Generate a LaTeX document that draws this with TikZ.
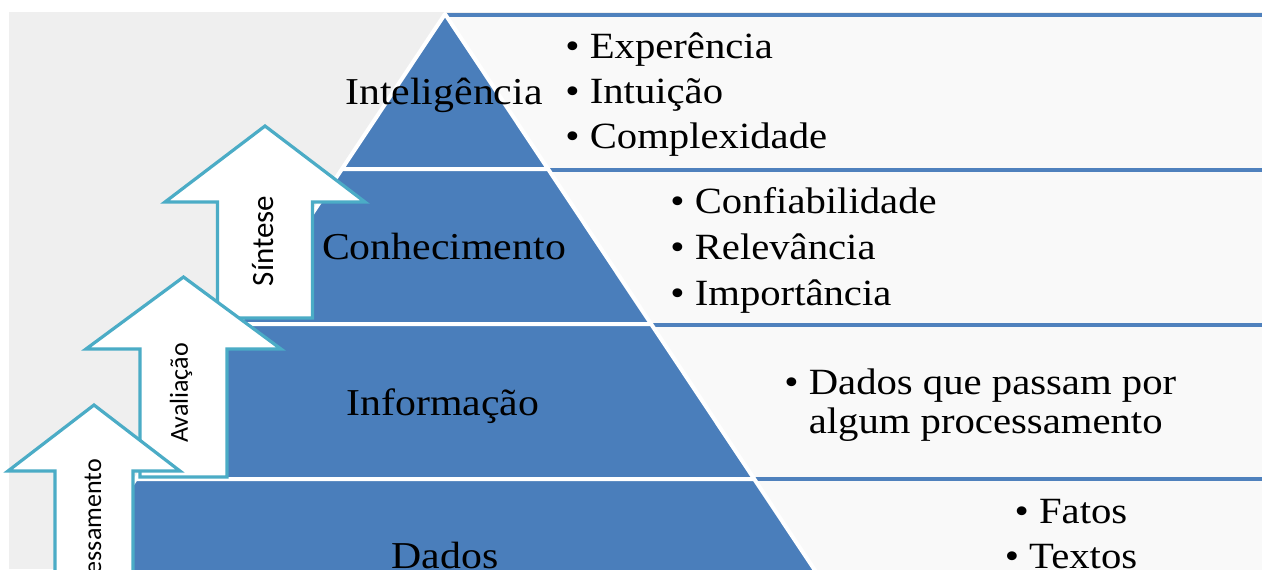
\documentclass[tikz,border=0pt]{standalone}
\usepackage{fontspec}
\setmainfont{Liberation Serif}[FakeStretch=1.1]
\newfontfamily\arrowfont{Carlito}
\definecolor{pyrblue}{RGB}{74,126,187}
\definecolor{arrowteal}{RGB}{75,172,198}
\definecolor{bggray}{RGB}{239,239,239}
\definecolor{panelgray}{RGB}{249,249,249}
\definecolor{lineblue}{RGB}{79,129,189}
\begin{document}
\begin{tikzpicture}[x=0.5pt,y=-0.5pt,
    layer/.style={fill=pyrblue,draw=white,line width=2pt,line join=round},
    uparrow/.style={fill=white,draw=arrowteal,line width=1.6pt,line join=miter},
    level/.style={font=\fontsize{19}{22}\selectfont,anchor=base,inner sep=0pt},
    bullet/.style={font=\fontsize{18.5}{22}\selectfont,anchor=base west,inner sep=0pt},
    arrowlabel/.style={font=\arrowfont\fontsize{13}{15}\selectfont,rotate=90,inner sep=0pt}]
    \useasboundingbox (0,0) rectangle (1262,569);
    \clip (0,0) rectangle (1262,569);
    \fill[bggray] (9,12) rectangle (1262,569);
    % panels on the right
    \foreach \ya/\yb in {15/170,170/325,325/479,479/640}{
      \fill[panelgray] (445,\ya) rectangle (1262,\yb);
      \draw[lineblue,line width=2pt] (445,\ya)--(1262,\ya);
    }
    % pyramid, apex at (445,14)
    \foreach \ya/\yb in {14/169,169/324,324/479,479/640}{
      \pgfmathsetmacro\wa{0.665*(\ya-14)}
      \pgfmathsetmacro\wb{0.665*(\yb-14)}
      \draw[layer] (445-\wa,\ya)--(445+\wa,\ya)--(445+\wb,\yb)--(445-\wb,\yb)--cycle;
    }
    % arrows
    \draw[uparrow] (217.5,318)--(217.5,202)--(165,202)--(265,126)--(365,202)--(312.5,202)--(312.5,318)--cycle;
    \draw[uparrow] (140,477)--(140,349)--(86,349)--(183.5,277)--(281,349)--(227,349)--(227,477)--cycle;
    \draw[uparrow] (55,640)--(55,471)--(8,471)--(94,405)--(180,471)--(133,471)--(133,640)--cycle;
    \node[arrowlabel,font=\arrowfont\fontsize{15.5}{17}\selectfont] (sintese) at (263,241) {Síntese};
    \node[arrowlabel] (avaliacao) at (181,393) {Avaliação};
    \node[arrowlabel] (processamento) at (93,540) {Processamento};
    % levels
    \node[level] (inteligencia) at (444,104) {Inteligência};
    \node[level] (conhecimento) at (444,259) {Conhecimento};
    \node[level] (informacao) at (443,415) {Informação};
    \node[level] (dados) at (445,568) {Dados};
    % lists
    \node[bullet] (experiencia) at (565,58) {• Experência};
    \node[bullet] (intuicao) at (565,103) {• Intuição};
    \node[bullet] (complexidade) at (565,148) {• Complexidade};
    \node[bullet] (confiabilidade) at (670,213) {• Confiabilidade};
    \node[bullet] (relevancia) at (670,259) {• Relevância};
    \node[bullet] (importancia) at (670,305) {• Importância};
    \node[bullet] (passam) at (784,394) {• Dados que passam por};
    \node[bullet] (algum) at (784,433) {\phantom{• }algum processamento};
    \node[bullet,anchor=base] (fatos) at (1071,523) {• Fatos};
    \node[bullet,anchor=base] (textos) at (1071,568) {• Textos};
\end{tikzpicture}
\end{document}
